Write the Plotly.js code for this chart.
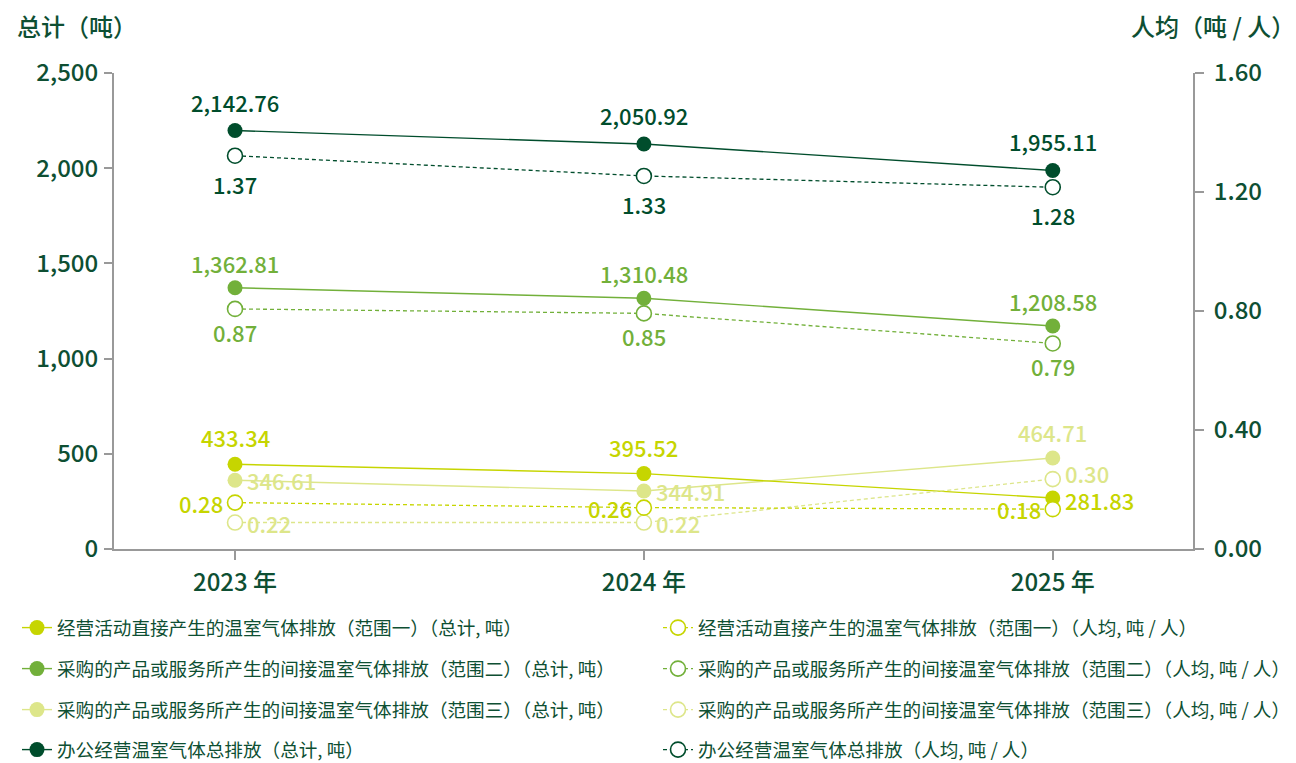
<!DOCTYPE html>
<html>
<head>
<meta charset="utf-8">
<script src="https://cdn.plot.ly/plotly-3.0.1.min.js"></script>
<style>
  html, body { margin: 0; padding: 0; background: #ffffff; }
  #chart { width: 1296px; height: 763px; }
</style>
</head>
<body>
<div id="chart"></div>
<script>
// ---- data ----
const years = ['2023 年', '2024 年', '2025 年'];

// Marker heights as they sit in the reference picture (left axis, tonnes)
const scope1Total = [445, 396, 268];
const scope2Total = [1372, 1317, 1171];
const scope3Total = [361, 305, 478];
const officeTotal = [2198, 2127, 1988];
// Marker heights as they sit in the reference picture (right axis, tonnes per person)
const scope1PerCap = [0.156, 0.139, 0.134];
const scope2PerCap = [0.807, 0.792, 0.691];
const scope3PerCap = [0.089, 0.089, 0.235];
const officePerCap = [1.322, 1.254, 1.216];

// Printed value labels
const scope1TotalLabels = ['433.34', '395.52', '281.83'];
const scope2TotalLabels = ['1,362.81', '1,310.48', '1,208.58'];
const scope3TotalLabels = ['346.61', '344.91', '464.71'];
const officeTotalLabels = ['2,142.76', '2,050.92', '1,955.11'];
const scope1PerCapLabels = ['0.28', '0.26', '0.18'];
const scope2PerCapLabels = ['0.87', '0.85', '0.79'];
const scope3PerCapLabels = ['0.22', '0.22', '0.30'];
const officePerCapLabels = ['1.37', '1.33', '1.28'];

const seriesNames = {
  s1t: '经营活动直接产生的温室气体排放（范围一）（总计, 吨）',
  s2t: '采购的产品或服务所产生的间接温室气体排放（范围二）（总计, 吨）',
  s3t: '采购的产品或服务所产生的间接温室气体排放（范围三）（总计, 吨）',
  oft: '办公经营温室气体总排放（总计, 吨）',
  s1p: '经营活动直接产生的温室气体排放（范围一）（人均, 吨 / 人）',
  s2p: '采购的产品或服务所产生的间接温室气体排放（范围二）（人均, 吨 / 人）',
  s3p: '采购的产品或服务所产生的间接温室气体排放（范围三）（人均, 吨 / 人）',
  ofp: '办公经营温室气体总排放（人均, 吨 / 人）'
};

// ---- style ----
const C1 = '#c6d500';
const C2 = '#72b03a';
const C3 = '#dde68a';
const C4 = '#004d2c';
const TXT = '#0e4f33';
const AX = '#999999';
const FONT = '"Noto Sans CJK SC", "Noto Sans", sans-serif';
const LABEL_SIZE = 22;

function totalTrace(y, color, name, legendId) {
  return {
    x: years, y: y, yaxis: 'y', type: 'scatter', mode: 'lines+markers',
    name: name, legend: legendId,
    line: { color: color, width: 1.4 },
    marker: { color: color, size: 15, symbol: 'circle', line: { width: 0 } },
    cliponaxis: false, hoverinfo: 'skip'
  };
}
function perCapTrace(y, color, name, legendId) {
  return {
    x: years, y: y, yaxis: 'y2', type: 'scatter', mode: 'lines+markers',
    name: name, legend: legendId,
    line: { color: color, width: 1.3, dash: '4px,3px' },
    marker: { color: '#ffffff', size: 15, symbol: 'circle', line: { color: color, width: 1.6 } },
    cliponaxis: false, hoverinfo: 'skip'
  };
}

const traces = [
  totalTrace(scope3Total, C3, seriesNames.s3t, 'legend3'),
  totalTrace(scope1Total, C1, seriesNames.s1t, 'legend'),
  totalTrace(scope2Total, C2, seriesNames.s2t, 'legend2'),
  totalTrace(officeTotal, C4, seriesNames.oft, 'legend4'),
  perCapTrace(scope3PerCap, C3, seriesNames.s3p, 'legend7'),
  perCapTrace(scope1PerCap, C1, seriesNames.s1p, 'legend5'),
  perCapTrace(scope2PerCap, C2, seriesNames.s2p, 'legend6'),
  perCapTrace(officePerCap, C4, seriesNames.ofp, 'legend8')
];

// value labels: placement per point; vertical and side offsets per series
const SIDE = 11;
function labelAnns(yVals, labels, yref, places, vdist, color, nudge) {
  return yVals.map((v, i) => {
    const p = places[i];
    const a = {
      x: years[i], y: v, xref: 'x', yref: yref, text: labels[i], showarrow: false,
      font: { family: FONT, size: LABEL_SIZE, color: color, weight: 500 },
      xanchor: 'center', yanchor: 'middle', xshift: 0, yshift: 0, borderpad: 0
    };
    if (p === 'top') a.yshift = vdist;
    if (p === 'bottom') a.yshift = -vdist;
    if (p === 'right') { a.xanchor = 'left'; a.xshift = SIDE; }
    if (p === 'left') { a.xanchor = 'right'; a.xshift = -SIDE; }
    if (nudge) a.yshift += nudge[i];
    return a;
  });
}

const valueLabels = [].concat(
  labelAnns(officeTotal, officeTotalLabels, 'y', ['top', 'top', 'top'], 29, C4),
  labelAnns(officePerCap, officePerCapLabels, 'y2', ['bottom', 'bottom', 'bottom'], 28, C4),
  labelAnns(scope2Total, scope2TotalLabels, 'y', ['top', 'top', 'top'], 25, C2),
  labelAnns(scope2PerCap, scope2PerCapLabels, 'y2', ['bottom', 'bottom', 'bottom'], 23, C2),
  labelAnns(scope1Total, scope1TotalLabels, 'y', ['top', 'top', 'right'], 27, C1, [0, 0, -2]),
  labelAnns(scope3Total, scope3TotalLabels, 'y', ['right', 'right', 'top'], 26, C3),
  labelAnns(scope1PerCap, scope1PerCapLabels, 'y2', ['left', 'left', 'left'], 0, C1),
  labelAnns(scope3PerCap, scope3PerCapLabels, 'y2', ['right', 'right', 'right'], 0, C3, [0, 0, 6])
);

const L = 114, R = 103, T = 73, B = 214;
const plotW = 1296 - L - R, plotH = 763 - T - B;
const px = v => (v - L) / plotW;
const py = v => (763 - B - v) / plotH;

const rowsY = [628, 669, 710, 750];
const leftX = 17, rightX = 658;
function legendAt(xp, yp) {
  return {
    x: px(xp), y: py(yp), xanchor: 'left', yanchor: 'middle',
    xref: 'paper', yref: 'paper',
    bgcolor: 'rgba(0,0,0,0)', borderwidth: 0,
    font: { family: FONT, size: 18.6, color: TXT },
    itemclick: false, itemdoubleclick: false
  };
}

const tickFont = { family: FONT, size: 24, color: TXT, weight: 500 };

const layout = {
  width: 1296, height: 763,
  margin: { l: L, r: R, t: T, b: B, pad: 0, autoexpand: false },
  paper_bgcolor: '#ffffff', plot_bgcolor: '#ffffff',
  font: { family: FONT, color: TXT },
  showlegend: true,
  xaxis: {
    type: 'category', range: [-0.296, 2.343],
    showgrid: false, zeroline: false,
    showline: true, linecolor: AX, linewidth: 2,
    ticks: 'outside', ticklen: 9, tickwidth: 2, tickcolor: AX,
    tickfont: tickFont, ticklabelstandoff: 2, fixedrange: true
  },
  yaxis: {
    range: [0, 2500], tickvals: [0, 500, 1000, 1500, 2000, 2500], tickformat: ',d',
    showgrid: false, zeroline: false,
    showline: true, linecolor: AX, linewidth: 2,
    ticks: 'outside', ticklen: 8, tickwidth: 2, tickcolor: AX,
    tickfont: tickFont, ticklabelstandoff: 1, fixedrange: true
  },
  yaxis2: {
    overlaying: 'y', side: 'right', anchor: 'x',
    range: [0, 1.6], tickvals: [0, 0.4, 0.8, 1.2, 1.6], tickformat: '.2f',
    showgrid: false, zeroline: false,
    showline: true, linecolor: AX, linewidth: 2,
    ticks: 'outside', ticklen: 9, tickwidth: 2, tickcolor: AX,
    tickfont: tickFont, ticklabelstandoff: 5, fixedrange: true
  },
  legend: legendAt(leftX, rowsY[0]),
  legend2: legendAt(leftX, rowsY[1]),
  legend3: legendAt(leftX, rowsY[2]),
  legend4: legendAt(leftX, rowsY[3]),
  legend5: legendAt(rightX, rowsY[0]),
  legend6: legendAt(rightX, rowsY[1]),
  legend7: legendAt(rightX, rowsY[2]),
  legend8: legendAt(rightX, rowsY[3]),
  annotations: [
    {
      text: '总计（吨）', xref: 'paper', yref: 'paper', x: px(15), y: py(26),
      xanchor: 'left', yanchor: 'middle', showarrow: false,
      font: { family: FONT, size: 24, color: TXT, weight: 500 }
    },
    {
      text: '人均（吨 / 人）', xref: 'paper', yref: 'paper', x: px(1296), y: py(26),
      xanchor: 'right', yanchor: 'middle', showarrow: false, borderpad: 0,
      font: { family: FONT, size: 24, color: TXT, weight: 500 }
    }
  ].concat(valueLabels)
};

Plotly.newPlot('chart', traces, layout, { displayModeBar: false, staticPlot: true });
</script>
</body>
</html>
